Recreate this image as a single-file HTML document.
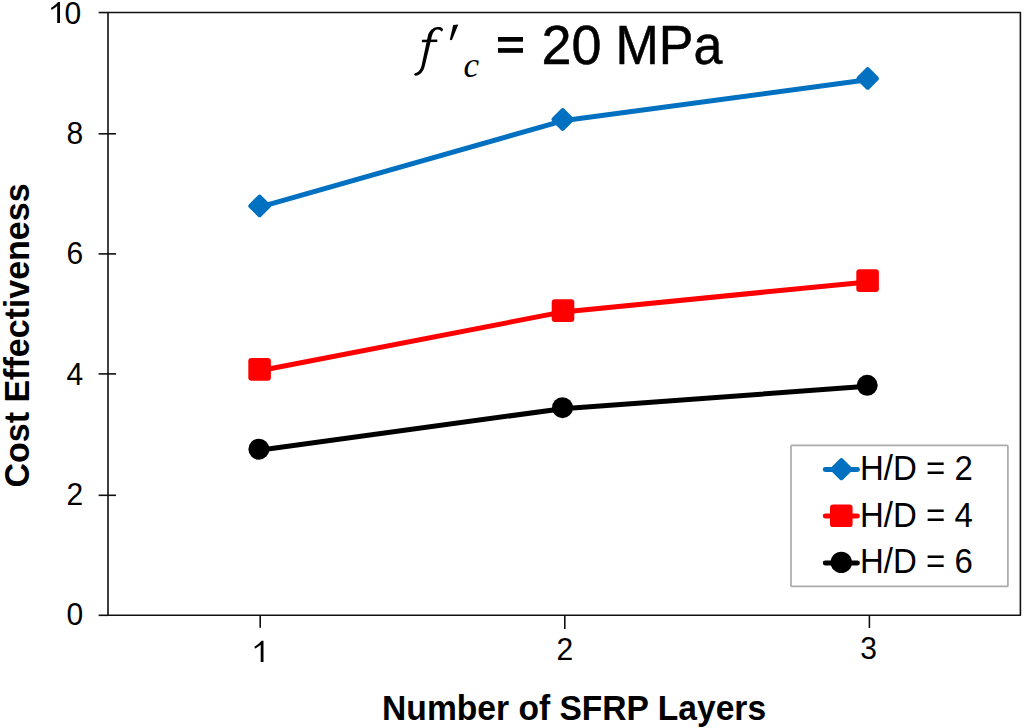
<!DOCTYPE html>
<html>
<head>
<meta charset="utf-8">
<style>
html,body{margin:0;padding:0;background:#fff;width:1024px;height:728px;overflow:hidden;}
svg{display:block;}
.s{font-family:"Liberation Sans",sans-serif;}
.b{font-family:"Liberation Sans",sans-serif;font-weight:bold;}
.i{font-family:"Liberation Serif",serif;font-style:italic;}
</style>
</head>
<body>
<svg width="1024" height="728" viewBox="0 0 1024 728">
<rect x="0" y="0" width="1024" height="728" fill="#fff"/>
<rect x="108" y="12.55" width="912.4" height="602.75" fill="none" stroke="#111" stroke-width="1.6" stroke-linejoin="round"/>
<g stroke="#111" stroke-width="1.6">
<line x1="98.6" y1="615.30" x2="108" y2="615.30"/>
<line x1="98.6" y1="495.30" x2="116" y2="495.30"/>
<line x1="98.6" y1="373.90" x2="116" y2="373.90"/>
<line x1="98.6" y1="253.90" x2="116" y2="253.90"/>
<line x1="98.6" y1="133.80" x2="116" y2="133.80"/>
<line x1="98.6" y1="12.55" x2="108" y2="12.55"/>
<line x1="260.2" y1="615.3" x2="260.2" y2="627.8"/>
<line x1="564.8" y1="615.3" x2="564.8" y2="629"/>
<line x1="869.4" y1="615.3" x2="869.4" y2="628"/>
</g>
<text class="s" text-anchor="end" font-size="30" transform="translate(83.1,624.90) scale(1,1.03)">0</text>
<text class="s" text-anchor="end" font-size="30" transform="translate(83.1,504.80) scale(1,1.03)">2</text>
<text class="s" text-anchor="end" font-size="30" transform="translate(83.1,384.60) scale(1,1.03)">4</text>
<text class="s" text-anchor="end" font-size="30" transform="translate(83.1,263.70) scale(1,1.03)">6</text>
<text class="s" text-anchor="end" font-size="30" transform="translate(83.1,143.60) scale(1,1.03)">8</text>
<text class="s" text-anchor="end" font-size="30" transform="translate(81.3,23.50) scale(1,1.03)">0</text>
<path fill="#000" d="M60.00,2.00 L60.00,22.90 L57.20,22.90 L57.20,5.97 C55.40,7.43 52.80,9.21 51.70,9.69 C51.30,9.84 51.00,8.90 51.20,7.64 C53.80,6.18 56.60,3.88 58.00,2.00 Z"/>
<path fill="#000" d="M263.50,640.70 L263.50,661.90 L260.70,661.90 L260.70,644.73 C258.90,646.21 256.30,648.01 255.20,648.50 C254.80,648.65 254.50,647.70 254.70,646.42 C257.30,644.94 260.10,642.61 261.50,640.70 Z"/>
<text class="s" text-anchor="middle" font-size="30" transform="translate(564.8,660.1) scale(1,1.03)">2</text>
<text class="s" text-anchor="middle" font-size="30" transform="translate(868.5,658.5) scale(1,1.03)">3</text>
<text class="b" text-anchor="middle" font-size="33.6" transform="translate(574.1,719.6) scale(1,1.035)">Number of SFRP Layers</text>
<text class="b" text-anchor="middle" font-size="34" transform="translate(28.9,335.5) rotate(-90) scale(1,1.025)">Cost Effectiveness</text>
<path fill="#000" d="M442.7,28.8 C441.5,26.8 438.5,26.9 436.2,27.2 C432.5,27.8 429.5,31 428.1,34.7 L421.6,65.6 C420.9,69 419,71.8 416.5,72.8 C415.5,73.1 414.4,73.3 414.2,74.3 C414.1,75.5 415.2,75.9 416.2,75.7 C420.5,75 423.6,71.5 424.9,65.6 L431.2,39.3 C431.8,35.5 433.3,30.8 436.2,29.7 C438,29.2 439.5,29.5 440.5,30.6 C441,31.3 441.7,31.6 442.2,31.2 C443,30.6 443.1,29.5 442.7,28.8 Z"/>
<path fill="#000" d="M421.9,39.8 L437.3,39.4 L437.3,41.9 L421.9,42.3 Z"/>
<path fill="#000" d="M453.2,25 L458.3,24.5 L452.2,39.6 C451.6,40.4 450.2,40.4 449.9,39.3 Z"/>
<text class="i" font-size="35" x="463.5" y="76.5">c</text>
<rect x="498" y="37" width="25" height="4.7" fill="#000"/>
<rect x="498" y="48.1" width="25" height="4.7" fill="#000"/>
<text class="s" font-size="54" stroke="#000" stroke-width="0.5" transform="translate(541.6,64.4) scale(1,1.015)">20</text>
<text class="s" font-size="56" stroke="#000" stroke-width="0.5" textLength="106.9" lengthAdjust="spacingAndGlyphs" transform="translate(615.5,64.4)">MPa</text>
<g fill="none" stroke-width="5" stroke-linejoin="round" stroke-linecap="round">
<polyline stroke="#0070C0" points="259.6,207.20 562.7,120.80 867.7,79.70"/>
<polyline stroke="#FF0000" points="259.6,370.70 563.0,311.90 867.6,281.95"/>
<polyline stroke="#000" points="258.9,450.20 562.5,408.65 867.2,386.35"/>
</g>
<g fill="#0070C0" stroke="#0070C0" stroke-width="5" stroke-linejoin="round">
<path d="M259.6,197.15 L268.35,205.9 L259.6,214.65 L250.85,205.9 Z"/>
<path d="M562.7,110.75 L571.45,119.5 L562.7,128.25 L553.95,119.5 Z"/>
<path d="M867.7,69.65 L876.45,78.4 L867.7,87.15 L858.95,78.4 Z"/>
</g>
<g fill="#FF0000">
<rect x="248.30" y="358.10" width="22.6" height="22.6" rx="3.2"/>
<rect x="551.70" y="299.30" width="22.6" height="22.6" rx="3.2"/>
<rect x="856.30" y="269.35" width="22.6" height="22.6" rx="3.2"/>
</g>
<g fill="#000">
<circle cx="258.9" cy="449.2" r="10.5"/>
<circle cx="562.5" cy="407.65" r="10.5"/>
<circle cx="867.2" cy="385.35" r="10.5"/>
</g>
<rect x="791" y="445.3" width="216.9" height="141.1" rx="1" fill="#fff" stroke="#ababab" stroke-width="1.7"/>
<g stroke-width="4.8" stroke-linecap="round">
<line x1="825.2" y1="469.5" x2="857.5" y2="469.5" stroke="#0070C0"/>
<line x1="825.2" y1="516" x2="857.5" y2="516" stroke="#FF0000"/>
<line x1="825.2" y1="563" x2="857.5" y2="563" stroke="#000"/>
</g>
<g fill="#0070C0" stroke="#0070C0" stroke-width="5" stroke-linejoin="round">
<path d="M841.4,460.70 L849.90,469.2 L841.4,477.70 L832.90,469.2 Z"/>
</g>
<rect x="830" y="504.5" width="22.6" height="22.6" rx="3.2" fill="#FF0000"/>
<circle cx="841.3" cy="562.4" r="10.7" fill="#000"/>
<text class="s" font-size="33" transform="translate(860,480.0) scale(1,1.075)">H/D = 2</text>
<text class="s" font-size="33" transform="translate(860,527.0) scale(1,1.075)">H/D = 4</text>
<text class="s" font-size="33" transform="translate(860,573.4) scale(1,1.075)">H/D = 6</text>
</svg>
</body>
</html>
